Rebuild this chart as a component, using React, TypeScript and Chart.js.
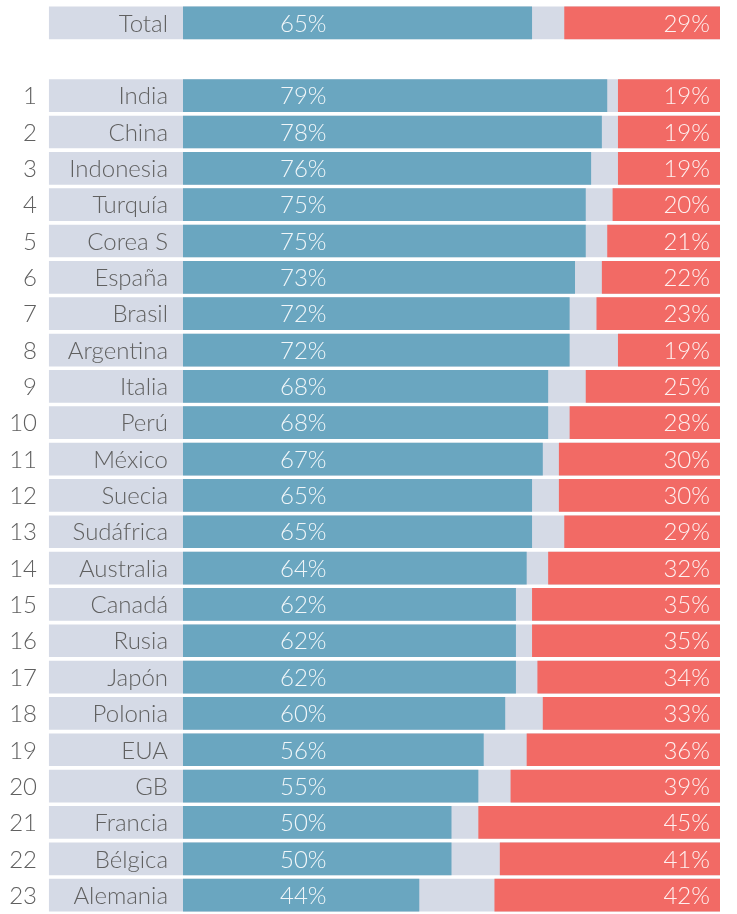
import React, { useEffect, useRef } from "react";
import { Chart, registerables } from "chart.js";

Chart.register(...registerables);

// Row data: the overall total first, then the ranked countries
const totalLabel = "Total";
const totalPositive = 65;
const totalNegative = 29;

const countries = [
  "India", "China", "Indonesia", "Turquía", "Corea S", "España", "Brasil",
  "Argentina", "Italia", "Perú", "México", "Suecia", "Sudáfrica", "Australia",
  "Canadá", "Rusia", "Japón", "Polonia", "EUA", "GB", "Francia", "Bélgica",
  "Alemania",
];
const positive = [79, 78, 76, 75, 75, 73, 72, 72, 68, 68, 67, 65, 65, 64, 62, 62, 62, 60, 56, 55, 50, 50, 44];
const negative = [19, 19, 19, 20, 21, 22, 23, 19, 25, 28, 30, 30, 29, 32, 35, 35, 34, 33, 36, 39, 45, 41, 42];

const BLUE = "#6aa6c0";
const RED = "#f26a65";
const GREY = "#d5dae6";
const FONT = '300 24px Lato, "Open Sans", sans-serif';

export default function App() {
  const canvasRef = useRef<HTMLCanvasElement | null>(null);

  useEffect(() => {
    if (!canvasRef.current) return;

    // A blank category separates the total from the ranking
    const labels = [totalLabel, "", ...countries];
    const pos: (number | null)[] = [totalPositive, null, ...positive];
    const neg: (number | null)[] = [totalNegative, null, ...negative];
    const ranks = labels.map((_, i) => (i >= 2 ? String(i - 1) : ""));

    const textPlugin = {
      id: "rowText",
      afterDatasetsDraw(chart: any) {
        const { ctx, scales } = chart;
        const xs = scales.x;
        const ys = scales.y;
        ctx.save();
        ctx.font = FONT;
        ctx.textBaseline = "middle";
        labels.forEach((lab, i) => {
          if (!lab) return;
          const yc = ys.getPixelForValue(i) + 1;
          // rank number
          ctx.fillStyle = "#606060";
          ctx.textAlign = "right";
          if (ranks[i]) ctx.fillText(ranks[i], 37, yc);
          // name inside the grey label box
          ctx.fillText(lab, xs.getPixelForValue(0) - 15, yc);
          // values on the bars
          ctx.fillStyle = "rgba(255,255,255,0.9)";
          ctx.textAlign = "center";
          ctx.fillText(`${pos[i]}%`, xs.getPixelForValue(22.4), yc);
          ctx.textAlign = "right";
          ctx.fillText(`${neg[i]}%`, xs.getPixelForValue(100) - 10, yc);
        });
        ctx.restore();
      },
    };

    const chart = new Chart(canvasRef.current, {
      type: "bar",
      data: {
        labels,
        datasets: [
          {
            label: "fondo",
            data: pos.map((v) => (v === null ? null : [-25, 100])) as any,
            backgroundColor: GREY,
            order: 3,
          },
          {
            label: "positivo",
            data: pos.map((v) => (v === null ? null : [0, v])) as any,
            backgroundColor: BLUE,
            order: 1,
          },
          {
            label: "negativo",
            data: neg.map((v) => (v === null ? null : [100 - v, 100])) as any,
            backgroundColor: RED,
            order: 2,
          },
        ],
      },
      options: {
        indexAxis: "y",
        responsive: true,
        maintainAspectRatio: false,
        animation: false,
        grouped: false,
        categoryPercentage: 1,
        barPercentage: 0.9,
        layout: { padding: { top: 4.8, bottom: 0.7, left: 48.75, right: 17 } },
        plugins: {
          legend: { display: false },
          tooltip: { enabled: false },
        },
        scales: {
          x: { display: false, min: -25, max: 100 },
          y: { display: false },
        },
      } as any,
      plugins: [textPlugin],
    });

    return () => chart.destroy();
  }, []);

  return (
    <div style={{ position: "absolute", left: 0, top: 0, width: 737, height: 914, background: "#fff" }}>
      <canvas ref={canvasRef} />
    </div>
  );
}
